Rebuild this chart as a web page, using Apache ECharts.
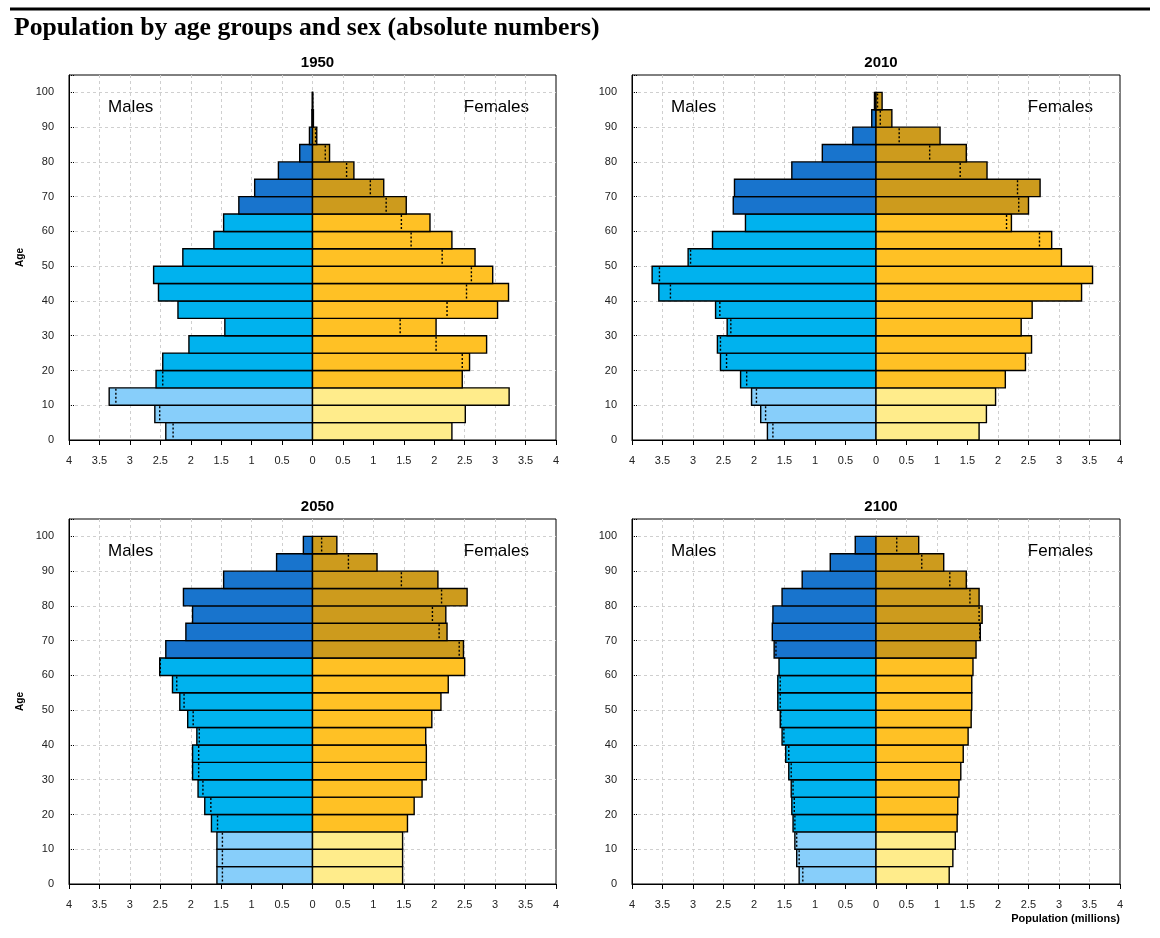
<!DOCTYPE html>
<html><head><meta charset="utf-8">
<script src="https://cdn.jsdelivr.net/npm/echarts@6/dist/echarts.min.js"></script>
<style>html,body{margin:0;padding:0;background:#fff}#c{width:1160px;height:938px}</style>
</head><body><div id="c"></div>
<script>
// Age groups (start of each 5-year group): 0-4 ... 95-99
const ageStarts = [0,5,10,15,20,25,30,35,40,45,50,55,60,65,70,75,80,85,90,95];
const yTickLabels = [0,10,20,30,40,50,60,70,80,90,100];

// Population in millions, per age group (0-4 first)
const males1950   = [2.41,2.59,3.34,2.57,2.46,2.03,1.44,2.21,2.53,2.61,2.13,1.62,1.46,1.21,0.95,0.56,0.21,0.05,0.01,0.003];
const females1950 = [2.29,2.51,3.23,2.46,2.58,2.86,2.03,3.04,3.22,2.96,2.67,2.29,1.93,1.54,1.17,0.68,0.28,0.07,0.015,0.004];

const males2010   = [1.78,1.89,2.04,2.22,2.55,2.60,2.44,2.63,3.56,3.67,3.08,2.68,2.14,2.34,2.32,1.38,0.88,0.38,0.07,0.025];
const females2010 = [1.69,1.81,1.96,2.12,2.45,2.55,2.38,2.56,3.37,3.55,3.04,2.88,2.22,2.50,2.69,1.82,1.48,1.05,0.26,0.10];

const males2050   = [1.57,1.57,1.57,1.66,1.77,1.88,1.97,1.97,1.90,2.05,2.18,2.30,2.51,2.41,2.08,1.97,2.12,1.46,0.59,0.15];
const females2050 = [1.48,1.48,1.48,1.56,1.67,1.80,1.87,1.87,1.86,1.96,2.11,2.23,2.50,2.48,2.21,2.19,2.54,2.06,1.06,0.40];

const males2100   = [1.26,1.30,1.33,1.36,1.38,1.39,1.43,1.48,1.54,1.57,1.61,1.61,1.59,1.67,1.70,1.69,1.54,1.21,0.75,0.34];
const females2100 = [1.20,1.26,1.30,1.33,1.34,1.36,1.39,1.43,1.51,1.56,1.57,1.57,1.59,1.64,1.71,1.74,1.69,1.48,1.11,0.70];

const years = ['1950','2010','2050','2100'];
const malesByYear = [males1950, males2010, males2050, males2100];
const femalesByYear = [females1950, females2010, females2050, females2100];

const COLORS = {
  young: {m:'#87CEFA', f:'#FFEC8B'},
  work:  {m:'#00B2EE', f:'#FFC125'},
  old:   {m:'#1874CD', f:'#CD9B1D'}
};
function colorFor(a){ return a < 15 ? COLORS.young : (a < 65 ? COLORS.work : COLORS.old); }

const layout = [
  {left:69, top:75, width:487, height:365},
  {left:632, top:75, width:488, height:365},
  {left:69, top:519, width:487, height:365},
  {left:632, top:519, width:488, height:365}
];

const FONT = 'Liberation Sans, Arial, sans-serif';

function renderItem(params, api){
  const a = api.value(0), m = api.value(1), f = api.value(2);
  const base = api.coord([0, a]);
  const top = api.coord([0, a + 5]);
  const pm = api.coord([-m, a]);
  const pf = api.coord([f, a]);
  const h = base[1] - top[1];
  const col = colorFor(a);
  const children = [];
  if (m > 0) children.push({type:'rect', shape:{x:pm[0], y:top[1], width:base[0]-pm[0], height:h},
    style:{fill:col.m, stroke:'#000', lineWidth:1.4}});
  if (f > 0) children.push({type:'rect', shape:{x:base[0], y:top[1], width:pf[0]-base[0], height:h},
    style:{fill:col.f, stroke:'#000', lineWidth:1.4}});
  let dx = null;
  if (m > f) dx = api.coord([-f, a])[0];
  else if (f > m) dx = api.coord([m, a])[0];
  if (dx !== null) children.push({type:'line', shape:{x1:dx, y1:top[1]+1, x2:dx, y2:base[1]-1},
    style:{stroke:'#000', lineWidth:1.4, lineDash:[2,2]}});
  return {type:'group', children};
}

const grids = [], xAxes = [], yAxes = [], series = [], titles = [], graphics = [];
layout.forEach((g, i) => {
  grids.push({left:g.left, top:g.top, width:g.width, height:g.height, show:true, borderColor:'#000', borderWidth:1, backgroundColor:'#fff'});
  xAxes.push({
    type:'value', gridIndex:i, min:-4, max:4, interval:0.5,
    axisLine:{show:true, onZero:false, lineStyle:{color:'#000', width:1}},
    axisTick:{show:true, length:5, lineStyle:{color:'#000'}},
    axisLabel:{margin:15, fontFamily:FONT, fontSize:11, color:'#222', formatter: v => String(Math.abs(Math.round(v*10)/10))},
    splitLine:{show:true, showMinLine:false, showMaxLine:false, lineStyle:{color:'#cfcfcf', type:[3,3], width:1}}
  });
  yAxes.push({
    type:'value', gridIndex:i, min:0, max:105, interval:10,
    name: (i % 2 === 0) ? 'Age' : '', nameLocation:'middle', nameGap:44,
    nameTextStyle:{fontFamily:FONT, fontWeight:'bold', fontSize:10, color:'#000'},
    axisLine:{show:true, onZero:false, lineStyle:{color:'#000', width:1}},
    axisTick:{show:true, inside:true, length:5, lineStyle:{color:'#000', type:'dotted'}},
    axisLabel:{margin:15, fontFamily:FONT, fontSize:11, color:'#222',
      formatter: v => (yTickLabels.indexOf(v) >= 0 ? String(v) : '')},
    splitLine:{show:true, showMinLine:false, showMaxLine:false, lineStyle:{color:'#cfcfcf', type:[3,3], width:1}}
  });
  series.push({
    type:'custom', xAxisIndex:i, yAxisIndex:i, clip:false,
    renderItem: renderItem,
    encode:{y:0, x:[1,2]},
    data: ageStarts.map((a, k) => [a, malesByYear[i][k], femalesByYear[i][k]])
  });
  titles.push({text:years[i], left:g.left + g.width/2, top:g.top - 25, textAlign:'center',
    textStyle:{fontFamily:FONT, fontWeight:'bold', fontSize:15, color:'#000'}});
  graphics.push({type:'text', left:g.left + 39, top:g.top + 24,
    style:{text:'Males', font:'17px ' + FONT, fill:'#000'}});
  graphics.push({type:'text', right:1160 - (g.left + g.width - 27), top:g.top + 24,
    style:{text:'Females', font:'17px ' + FONT, fill:'#000'}});
});

graphics.push({type:'rect', shape:{x:10, y:7.5, width:1140, height:3}, style:{fill:'#000'}});
graphics.push({type:'text', left:14, top:15,
  style:{text:'Population by age groups and sex (absolute numbers)', font:'bold 25.7px Liberation Serif, Times New Roman, serif', fill:'#000'}});
graphics.push({type:'text', right:40, top:913,
  style:{text:'Population (millions)', font:'bold 11px ' + FONT, fill:'#000'}});

const chart = echarts.init(document.getElementById('c'), null, {renderer:'canvas'});
chart.setOption({
  animation:false,
  backgroundColor:'#fff',
  title: titles,
  grid: grids,
  xAxis: xAxes,
  yAxis: yAxes,
  series: series,
  graphic: graphics
});
</script>
</body></html>
